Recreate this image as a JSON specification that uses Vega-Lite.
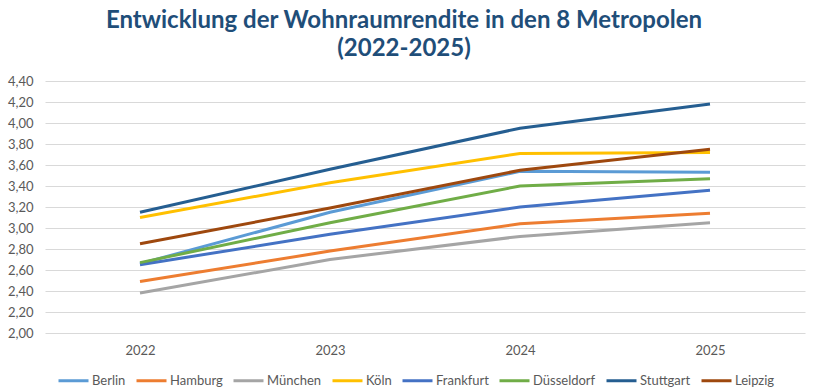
{
  "$schema": "https://vega.github.io/schema/vega-lite/v6.json",
  "autosize": {"type": "none"},
  "width": 760,
  "height": 252,
  "padding": {"left": 45, "top": 81, "right": 15, "bottom": 57},
  "background": "white",
  "title": {
    "text": ["Entwicklung der Wohnraumrendite in den 8 Metropolen", "(2022-2025)"],
    "font": "Lato",
    "fontSize": 24,
    "fontWeight": "bold",
    "color": "#1F4E79",
    "anchor": "middle",
    "lineHeight": 28,
    "offset": 14,
    "dx": -21
  },
  "data": {
    "values": [
      {"Jahr": "2022", "Stadt": "Berlin", "Rendite": 2.66},
      {"Jahr": "2023", "Stadt": "Berlin", "Rendite": 3.15},
      {"Jahr": "2024", "Stadt": "Berlin", "Rendite": 3.54},
      {"Jahr": "2025", "Stadt": "Berlin", "Rendite": 3.53},
      {"Jahr": "2022", "Stadt": "Hamburg", "Rendite": 2.49},
      {"Jahr": "2023", "Stadt": "Hamburg", "Rendite": 2.78},
      {"Jahr": "2024", "Stadt": "Hamburg", "Rendite": 3.04},
      {"Jahr": "2025", "Stadt": "Hamburg", "Rendite": 3.14},
      {"Jahr": "2022", "Stadt": "München", "Rendite": 2.38},
      {"Jahr": "2023", "Stadt": "München", "Rendite": 2.70},
      {"Jahr": "2024", "Stadt": "München", "Rendite": 2.92},
      {"Jahr": "2025", "Stadt": "München", "Rendite": 3.05},
      {"Jahr": "2022", "Stadt": "Köln", "Rendite": 3.10},
      {"Jahr": "2023", "Stadt": "Köln", "Rendite": 3.43},
      {"Jahr": "2024", "Stadt": "Köln", "Rendite": 3.71},
      {"Jahr": "2025", "Stadt": "Köln", "Rendite": 3.72},
      {"Jahr": "2022", "Stadt": "Frankfurt", "Rendite": 2.65},
      {"Jahr": "2023", "Stadt": "Frankfurt", "Rendite": 2.94},
      {"Jahr": "2024", "Stadt": "Frankfurt", "Rendite": 3.20},
      {"Jahr": "2025", "Stadt": "Frankfurt", "Rendite": 3.36},
      {"Jahr": "2022", "Stadt": "Düsseldorf", "Rendite": 2.67},
      {"Jahr": "2023", "Stadt": "Düsseldorf", "Rendite": 3.05},
      {"Jahr": "2024", "Stadt": "Düsseldorf", "Rendite": 3.40},
      {"Jahr": "2025", "Stadt": "Düsseldorf", "Rendite": 3.47},
      {"Jahr": "2022", "Stadt": "Stuttgart", "Rendite": 3.15},
      {"Jahr": "2023", "Stadt": "Stuttgart", "Rendite": 3.56},
      {"Jahr": "2024", "Stadt": "Stuttgart", "Rendite": 3.95},
      {"Jahr": "2025", "Stadt": "Stuttgart", "Rendite": 4.18},
      {"Jahr": "2022", "Stadt": "Leipzig", "Rendite": 2.85},
      {"Jahr": "2023", "Stadt": "Leipzig", "Rendite": 3.19},
      {"Jahr": "2024", "Stadt": "Leipzig", "Rendite": 3.55},
      {"Jahr": "2025", "Stadt": "Leipzig", "Rendite": 3.75}
    ]
  },
  "mark": {"type": "line", "strokeWidth": 3},
  "encoding": {
    "x": {
      "field": "Jahr",
      "type": "ordinal",
      "scale": {"type": "point", "padding": 0.5},
      "axis": {
        "title": null,
        "labelAngle": 0,
        "domain": false,
        "ticks": false,
        "grid": false,
        "labelFont": "Lato",
        "labelFontSize": 13,
        "labelColor": "#595959",
        "labelPadding": 11
      }
    },
    "y": {
      "field": "Rendite",
      "type": "quantitative",
      "scale": {"domain": [2, 4.4], "nice": false, "zero": false},
      "axis": {
        "title": null,
        "values": [2, 2.2, 2.4, 2.6, 2.8, 3, 3.2, 3.4, 3.6, 3.8, 4, 4.2, 4.4],
        "labelExpr": "replace(format(datum.value, '.2f'), '.', ',')",
        "domain": false,
        "ticks": false,
        "gridColor": "#D9D9D9",
        "gridWidth": 1,
        "labelFont": "Lato",
        "labelFontSize": 13,
        "labelColor": "#595959",
        "labelPadding": 12
      }
    },
    "color": {
      "field": "Stadt",
      "type": "nominal",
      "scale": {
        "domain": ["Berlin", "Hamburg", "München", "Köln", "Frankfurt", "Düsseldorf", "Stuttgart", "Leipzig"],
        "range": ["#5B9BD5", "#ED7D31", "#A5A5A5", "#FFC000", "#4472C4", "#70AD47", "#255E91", "#9E480E"]
      },
      "legend": {
        "title": null,
        "orient": "none",
        "legendX": 12,
        "legendY": 283,
        "direction": "horizontal",
        "columns": 8,
        "symbolType": "stroke",
        "symbolSize": 900,
        "symbolStrokeWidth": 3,
        "labelFont": "Lato",
        "labelFontSize": 13,
        "labelColor": "#595959",
        "labelOffset": 2,
        "columnPadding": 4
      }
    }
  },
  "config": {"view": {"stroke": null}}
}
